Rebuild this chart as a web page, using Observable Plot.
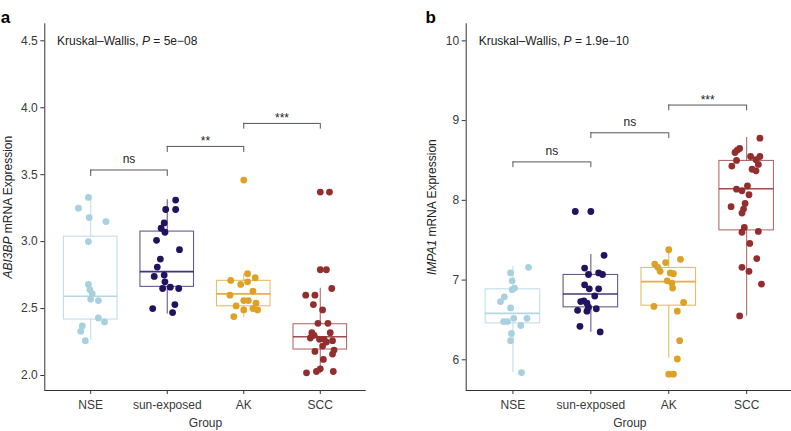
<!DOCTYPE html>
<html>
<head>
<meta charset="utf-8">
<script src="https://cdn.jsdelivr.net/npm/d3@7"></script>
<script src="https://cdn.jsdelivr.net/npm/@observablehq/plot@0.6"></script>
<style>
  html, body { margin: 0; padding: 0; background: #fff; overflow: hidden; }
  #wrap { position: relative; width: 791px; height: 431px; overflow: hidden; }
  #wrap svg { position: absolute; top: 0; }
</style>
</head>
<body>
<div id="wrap"></div>
<script>
// ---------- categories & colours ----------
const groups = ["NSE", "sun-exposed", "AK", "SCC"];
const groupColors = ["#a8d0de", "#23125f", "#dea126", "#932e2e"];

// ---------- panel a : ABI3BP ----------
const abiNSE = [3.33, 3.25, 3.18, 3.15, 3.00, 2.68, 2.64, 2.61, 2.57, 2.56, 2.43, 2.40, 2.37, 2.33, 2.26];
const abiNSEJit = [-0.03, -0.16, -0.02, 0.20, -0.03, -0.03, -0.01, 0.02, 0, 0.10, 0.10, 0.18, -0.11, -0.13, -0.07];
const abiSun = [3.31, 3.24, 3.24, 3.14, 3.10, 3.07, 3.01, 2.94, 2.87, 2.81, 2.74, 2.75, 2.70, 2.65, 2.66, 2.65, 2.53, 2.50, 2.47];
const abiSunJit = [0.11, -0.02, 0.11, -0.04, -0.08, -0.03, -0.14, 0.16, -0.09, -0.13, -0.17, -0.04, -0.03, -0.06, 0.04, 0.15, 0.10, -0.19, 0.07];
const abiAK = [3.46, 2.76, 2.73, 2.71, 2.68, 2.70, 2.63, 2.60, 2.56, 2.56, 2.54, 2.52, 2.50, 2.49, 2.49, 2.44];
const abiAKJit = [0, 0.05, 0.15, -0.17, -0.04, 0.05, 0.12, -0.18, 0, 0.06, 0.16, -0.10, 0.12, 0.18, 0, -0.13];
const abiSCC = [3.37, 3.37, 2.79, 2.79, 2.65, 2.60, 2.60, 2.53, 2.49, 2.39, 2.39, 2.32, 2.32, 2.28, 2.27, 2.27, 2.26, 2.22, 2.19, 2.18, 2.16, 2.12, 2.05, 2.03, 2.02, 2.03, 2.30, 2.25];
const abiSCCJit = [0, 0.12, 0, 0.08, 0.15, -0.19, -0.07, -0.09, 0.03, -0.03, 0.10, -0.11, 0.13, -0.13, -0.01, 0.05, 0.16, 0.03, 0.18, -0.07, 0.16, 0.04, 0, -0.05, -0.18, 0.17, -0.08, 0.08];
const abiQ1 = [2.418, 2.662, 2.517, 2.194];
const abiMedian = [2.592, 2.776, 2.610, 2.289];
const abiQ3 = [3.037, 3.075, 2.707, 2.383];
const abiLow = [2.261, 2.460, 2.435, 2.013];
const abiHigh = [3.330, 3.313, 2.759, 2.652];
const abiTicks = [2.0, 2.5, 3.0, 3.5, 4.0, 4.5];
const abiBracketTop = [3.535, 3.711, 3.883];
const abiBracketBottom = [3.487, 3.666, 3.840];
const abiBracketLabels = ["ns", "**", "***"];

// ---------- panel b : IMPA1 ----------
const impNSE = [7.16, 7.09, 6.99, 6.90, 6.88, 6.79, 6.73, 6.65, 6.48, 6.48, 6.52, 6.52, 6.43, 6.33, 6.24, 5.84];
const impNSEJit = [0.20, -0.03, -0.01, 0.02, -0.01, -0.11, -0.16, -0.03, -0.12, -0.07, 0.01, 0.18, 0.10, -0.02, -0.03, 0.11];
const impSun = [7.86, 7.86, 7.31, 7.15, 7.07, 7.09, 7.07, 6.94, 6.89, 6.89, 6.80, 6.74, 6.73, 6.71, 6.66, 6.62, 6.61, 6.64, 6.42, 6.35];
const impSunJit = [-0.20, 0, 0.17, -0.08, -0.03, 0.10, 0.15, -0.08, -0.02, 0.10, 0.05, -0.09, -0.13, -0.05, -0.03, -0.17, -0.05, 0.07, -0.14, 0.12];
const impAK = [7.38, 7.26, 7.20, 7.16, 7.22, 7.11, 7.09, 7.08, 6.99, 6.96, 6.90, 6.72, 6.67, 6.61, 6.24, 6.01, 5.82, 5.82];
const impAKJit = [0, 0.15, -0.18, -0.14, -0.04, -0.11, 0.02, 0.06, -0.02, 0.04, 0.05, 0.19, -0.19, 0.11, 0.14, 0.11, 0, 0.06];
const impSCC = [8.78, 8.65, 8.63, 8.60, 8.50, 8.55, 8.55, 8.51, 8.43, 8.45, 8.39, 8.37, 8.14, 8.12, 8.18, 8.07, 7.96, 7.92, 7.89, 7.84, 7.66, 7.60, 7.61, 7.46, 7.27, 7.16, 7.11, 6.95, 6.55];
const impSCCJit = [0.17, -0.09, -0.12, -0.15, -0.13, 0.05, 0.17, 0.12, -0.19, 0.15, 0.07, 0.12, -0.13, -0.06, 0.01, 0.03, -0.02, -0.20, -0.04, -0.06, -0.03, -0.06, 0.15, 0.04, 0.13, -0.06, 0.03, 0.19, -0.09];
const impQ1 = [6.457, 6.658, 6.679, 7.623];
const impMedian = [6.582, 6.826, 6.981, 8.146];
const impQ3 = [6.884, 7.064, 7.152, 8.494];
const impLow = [5.840, 6.347, 6.020, 6.545];
const impHigh = [7.170, 7.320, 7.375, 8.787];
const impTicks = [6, 7, 8, 9, 10];
const impBracketTop = [8.482, 8.847, 9.195];
const impBracketBottom = [8.410, 8.775, 9.123];
const impBracketLabels = ["ns", "ns", "***"];

const bracketFrom = [1, 2, 3];
const bracketTo = [2, 3, 4];

const FONT = "'Liberation Sans', Arial, Helvetica, sans-serif";

function italicize(svg, full, parts) {
  d3.select(svg).selectAll("text").filter(function () { return this.textContent === full; })
    .each(function () {
      const t = d3.select(this);
      t.text(null).style("white-space", "pre");
      for (const [s, it] of parts) {
        const ts = t.append("tspan").text(s);
        if (it) ts.attr("font-style", "italic");
      }
    });
}

function panel(cfg) {
  const xDomain = [0.4, 4.6];
  const pts = [];
  cfg.values.forEach((arr, gi) => arr.forEach((v, k) => pts.push({g: gi + 1, v, j: cfg.jitters[gi][k]})));
  const boxes = groups.map((name, i) => ({
    g: i + 1, q1: cfg.q1[i], med: cfg.med[i], q3: cfg.q3[i], lo: cfg.lo[i], hi: cfg.hi[i], color: groupColors[i]
  }));
  const br = bracketFrom.map((f, i) => ({from: f, to: bracketTo[i], top: cfg.bTop[i], bottom: cfg.bBottom[i], label: cfg.bLabels[i]}));
  const hw = 0.35;
  const marks = [
    Plot.ruleX([xDomain[0]], {stroke: "#333", strokeWidth: 1}),
    Plot.ruleY([cfg.yDomain[0]], {stroke: "#333", strokeWidth: 1}),
    Plot.axisY(cfg.ticks, {tickSize: 4, tickPadding: 3, tickFormat: cfg.tickFormat, label: null, fontSize: 12, fill: "#3a3a3a"}),
    Plot.axisX([1, 2, 3, 4], {tickSize: 4, tickPadding: 6, tickFormat: d => groups[d - 1], label: null, fontSize: 12, fill: "#3a3a3a"})
  ];
  boxes.forEach(b => {
    marks.push(
      Plot.ruleX([b], {x: "g", y1: "q3", y2: "hi", stroke: b.color, strokeOpacity: 0.7, strokeWidth: 1.1}),
      Plot.ruleX([b], {x: "g", y1: "lo", y2: "q1", stroke: b.color, strokeOpacity: 0.7, strokeWidth: 1.1}),
      Plot.rect([b], {x1: d => d.g - hw, x2: d => d.g + hw, y1: "q1", y2: "q3", fill: "none", stroke: b.color, strokeOpacity: 0.7, strokeWidth: 1.1}),
      Plot.ruleY([b], {y: "med", x1: d => d.g - hw, x2: d => d.g + hw, stroke: b.color, strokeOpacity: 0.85, strokeWidth: 1.6})
    );
  });
  groups.forEach((name, i) => {
    marks.push(Plot.dot(pts.filter(p => p.g === i + 1), {x: d => d.g + d.j, y: "v", r: 3.4, fill: groupColors[i], stroke: "none"}));
  });
  marks.push(
    Plot.ruleY(br, {y: "top", x1: "from", x2: "to", stroke: "#555", strokeWidth: 1}),
    Plot.ruleX(br, {x: "from", y1: "bottom", y2: "top", stroke: "#555", strokeWidth: 1}),
    Plot.ruleX(br, {x: "to", y1: "bottom", y2: "top", stroke: "#555", strokeWidth: 1}),
    Plot.text(br.filter(d => d.label === "ns"), {x: d => (d.from + d.to) / 2, y: "top", text: "label", dy: -7, lineAnchor: "bottom", fontSize: 12, fill: "#222"}),
    Plot.text(br.filter(d => d.label !== "ns"), {x: d => (d.from + d.to) / 2, y: "top", text: "label", dy: -1, lineAnchor: "bottom", fontSize: 12, fill: "#222"}),
    Plot.text([cfg.title], {x: 0.56, y: cfg.ticks[cfg.ticks.length - 1], textAnchor: "start", fontSize: 12, fill: "#222"}),
    Plot.text([cfg.yLabel], {frameAnchor: "left", dx: cfg.labelDx, rotate: -90, textAnchor: "middle", fontSize: 12, fill: "#222"}),
    Plot.text(["Group"], {frameAnchor: "bottom", dy: 36, fontSize: 12, fill: "#333"}),
    Plot.text([cfg.letter], {frameAnchor: "top-left", dx: cfg.letterDx, dy: -13, textAnchor: "start", fontSize: 17, fontWeight: "bold", fill: "#000"})
  );
  const svg = Plot.plot({
    width: cfg.width, height: 431,
    marginLeft: cfg.marginLeft, marginRight: cfg.marginRight, marginTop: 23.3, marginBottom: 41,
    x: {domain: xDomain},
    y: {domain: cfg.yDomain},
    style: {fontFamily: FONT, fontSize: "12px", color: "#333", background: "transparent", overflow: "visible"},
    marks
  });
  italicize(svg, cfg.title, cfg.titleParts);
  italicize(svg, cfg.yLabel, cfg.yLabelParts);
  svg.style.left = cfg.left + "px";
  return svg;
}

const wrap = document.getElementById("wrap");
wrap.appendChild(panel({
  left: 0, width: 400, marginLeft: 44.3, marginRight: 34.3,
  values: [abiNSE, abiSun, abiAK, abiSCC], jitters: [abiNSEJit, abiSunJit, abiAKJit, abiSCCJit],
  q1: abiQ1, med: abiMedian, q3: abiQ3, lo: abiLow, hi: abiHigh,
  yDomain: [1.888, 4.627], ticks: abiTicks, tickFormat: d3.format(".1f"),
  bTop: abiBracketTop, bBottom: abiBracketBottom, bLabels: abiBracketLabels,
  title: "Kruskal–Wallis, P = 5e−08",
  titleParts: [["Kruskal–Wallis, ", false], ["P", true], [" = 5e−08", false]],
  yLabel: "ABI3BP mRNA Expression",
  yLabelParts: [["ABI3BP", true], [" mRNA Expression", false]],
  labelDx: -37, letter: "a", letterDx: -44
}));
wrap.appendChild(panel({
  left: 400, width: 396, marginLeft: 65.7, marginRight: 3.1,
  values: [impNSE, impSun, impAK, impSCC], jitters: [impNSEJit, impSunJit, impAKJit, impSCCJit],
  q1: impQ1, med: impMedian, q3: impQ3, lo: impLow, hi: impHigh,
  yDomain: [5.615, 10.214], ticks: impTicks, tickFormat: d3.format("d"),
  bTop: impBracketTop, bBottom: impBracketBottom, bLabels: impBracketLabels,
  title: "Kruskal–Wallis, P = 1.9e−10",
  titleParts: [["Kruskal–Wallis, ", false], ["P", true], [" = 1.9e−10", false]],
  yLabel: "IMPA1 mRNA Expression",
  yLabelParts: [["IMPA1", true], [" mRNA Expression", false]],
  labelDx: -33.7, letter: "b", letterDx: -40.7
}));
</script>
</body>
</html>
